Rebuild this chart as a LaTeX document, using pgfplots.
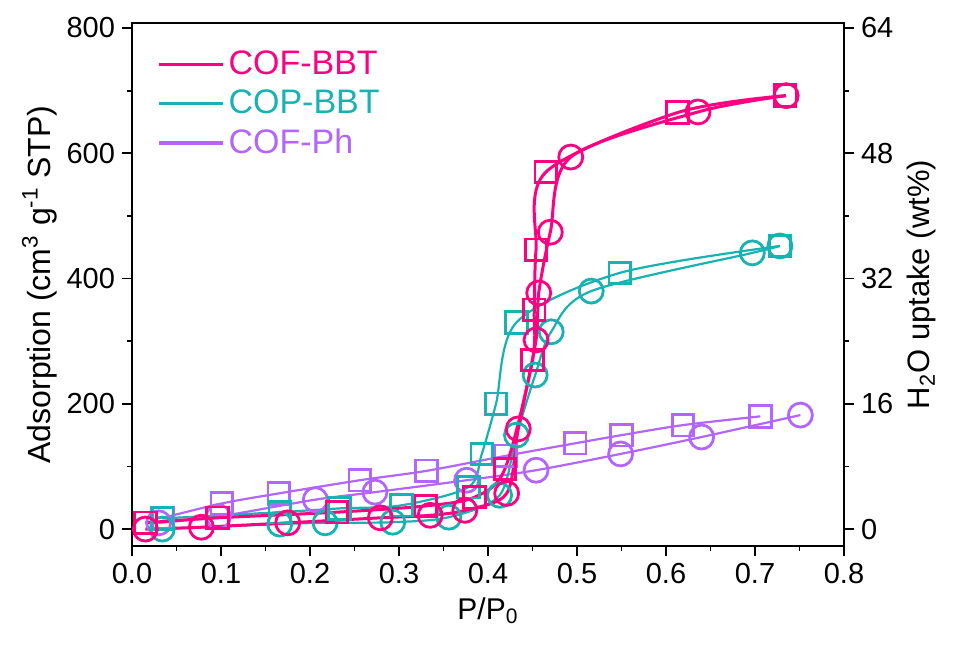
\documentclass[border=0pt]{standalone}
\usepackage{fontspec}
\setmainfont{Liberation Sans}
\usepackage{pgfplots}
\pgfplotsset{compat=1.18}
\definecolor{cpink}{RGB}{255,0,128}
\definecolor{cteal}{RGB}{23,178,178}
\definecolor{cpurp}{RGB}{178,102,255}
\begin{document}
\begin{tikzpicture}
\pgfplotsset{
  common/.style={scale only axis, width=356pt, height=261.5pt,
    xmin=0, xmax=0.8, tick align=outside,
    major tick length=5pt, minor tick length=2.5pt,
    every tick/.style={black, line width=0.9pt},
    axis line style={line width=1pt},
    tick label style={font=\fontsize{14.5}{16}\selectfont},
    label style={font=\fontsize{15.5}{17}\selectfont},
    /pgf/number format/assume math mode=true},
  sq/.style={mark=square, mark size=5.4pt, mark options={solid, line width=1.4pt}},
  ci/.style={mark=o, mark size=6pt, mark options={solid, line width=1.4pt}},
}
\begin{axis}[common, name=main,
  ymin=-27, ymax=808,
  xtick={0,0.1,0.2,0.3,0.4,0.5,0.6,0.7,0.8}, ytick={0,200,400,600,800},
  minor x tick num=1, minor y tick num=1,
  xtick pos=bottom, ytick pos=left,
  xticklabel style={/pgf/number format/.cd, fixed, fixed zerofill, precision=1},
  xlabel={P/P\textsubscript{0}},
  xlabel style={font=\fontsize{15}{17}\selectfont},
  ylabel={Adsorption (cm\textsuperscript{3} g\textsuperscript{-1} STP)},
  ylabel style={font=\fontsize{16}{18}\selectfont, xshift=0pt, yshift=-2pt},
  legend style={at={(0.035,0.955)}, anchor=north west, draw=none, fill=none,
    font=\fontsize{17}{19}\selectfont, row sep=2.2pt, inner sep=0pt},
  legend cell align=left,
  legend image code/.code={\draw[#1] (0pt,0pt) -- (32pt,0pt);},
]
\addlegendimage{cpink, line width=1.6pt}
\addlegendentry{\textcolor{cpink}{COF-BBT}}
\addlegendimage{cteal, line width=1.6pt}
\addlegendentry{\textcolor{cteal}{COP-BBT}}
\addlegendimage{cpurp, line width=1.6pt}
\addlegendentry{\textcolor{cpurp}{COF-Ph}}

% COF-Ph adsorption
\addplot[cpurp, line width=1.1pt, smooth, sq, forget plot] coordinates {
(0.035,18) (0.101,41) (0.165,57) (0.256,78) (0.331,93) (0.420,117)
(0.498,137) (0.550,150) (0.619,166) (0.706,180)};
% COF-Ph desorption
\addplot[cpurp, line width=1.1pt, smooth, ci, forget plot] coordinates {
(0.030,10) (0.097,20) (0.206,47) (0.273,59) (0.376,78) (0.454,94)
(0.549,120) (0.640,147) (0.751,182)};
% COP-BBT adsorption
\addplot[cteal, line width=1.1pt, smooth, sq, forget plot] coordinates {
(0.034,17) (0.166,27) (0.233,33) (0.303,38) (0.378,67) (0.393,120)
(0.409,200) (0.432,330) (0.548,409) (0.728,452)};
% COP-BBT desorption
\addplot[cteal, line width=1.1pt, smooth, ci, forget plot] coordinates {
(0.034,0) (0.166,8) (0.217,10) (0.293,11) (0.356,19) (0.413,54)
(0.432,150) (0.453,246) (0.471,315) (0.516,380) (0.697,441) (0.728,452)};
% COF-BBT adsorption
\addplot[cpink, line width=1.5pt, smooth, sq, forget plot] coordinates {
(0.015,10) (0.096,18) (0.230,27) (0.330,37) (0.385,51) (0.419,96)
(0.450,270) (0.452,350) (0.454,446) (0.465,570) (0.613,665) (0.734,692)};
% COF-BBT desorption
\addplot[cpink, line width=1.5pt, smooth, ci, forget plot] coordinates {
(0.015,0) (0.078,3) (0.175,10) (0.279,18) (0.335,22) (0.374,30)
(0.421,57) (0.434,160) (0.454,302) (0.457,377) (0.470,474) (0.493,594)
(0.636,666) (0.735,692)};
\end{axis}
\begin{axis}[common,
  ymin=-2.16, ymax=64.64,
  axis x line=none, axis y line*=right,
  ytick={0,16,32,48,64}, minor y tick num=1,
  ylabel={H\textsubscript{2}O uptake (wt\%)},
]
\end{axis}
\pgfresetboundingbox
\path[use as bounding box] ([xshift=-66pt,yshift=-51pt]main.south west)
  rectangle ([xshift=55.5pt,yshift=11.5pt]main.north east);
\end{tikzpicture}
\end{document}
